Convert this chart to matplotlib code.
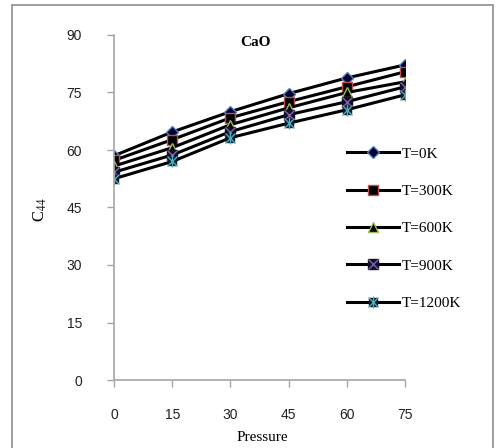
import numpy as np
import matplotlib.pyplot as plt
from matplotlib.patches import Rectangle

pressure = [0, 15, 30, 45, 60, 75]
labels = ['T=0K', 'T=300K', 'T=600K', 'T=900K', 'T=1200K']
c44_0 = [58.5, 64.7, 70.0, 74.7, 78.8, 82.2]
c44_300 = [57.3, 62.7, 68.4, 72.6, 76.5, 80.4]
c44_600 = [55.8, 60.6, 66.6, 71.0, 75.0, 77.8]
c44_900 = [54.2, 58.7, 64.8, 69.2, 72.6, 76.5]
c44_1200 = [52.5, 57.0, 63.2, 67.0, 70.5, 74.4]
y_ticks = [0, 15, 30, 45, 60, 75, 90]

W, H = 496, 448
fig = plt.figure(figsize=(W / 100, H / 100), dpi=100)
fig.patches.append(Rectangle((12 / W, -0.1), (493 - 12) / W, 1.1 - 5 / H,
                             transform=fig.transFigure, fill=False,
                             edgecolor='#8c8c8c', linewidth=1.2))

ax = fig.add_axes([114 / W, 1 - 380 / H, (405 - 114) / W, 345 / H])
grey = '#a6a6a6'

handles = []
lw = 2.2
# T=0K diamond
h0, = ax.plot(pressure, c44_0, color='black', lw=lw, marker='D', ms=6,
              mfc='#000033', mec='#4f81bd', mew=1)
handles.append(h0)
# T=300K square
h1, = ax.plot(pressure, c44_300, color='black', lw=lw, marker='s', ms=7.5,
              mfc='black', mec='#c0504d', mew=1)
handles.append(h1)
# T=600K triangle
h2, = ax.plot(pressure, c44_600, color='black', lw=lw, marker='^', ms=7.5,
              mfc='black', mec='#9bbb59', mew=1)
handles.append(h2)
# T=900K x on dark square
h3, = ax.plot(pressure, c44_900, color='black', lw=lw, marker='s', ms=7,
              mfc='#10102a', mec='#10102a', mew=1)
h3x, = ax.plot(pressure, c44_900, ls='none', marker='x', ms=7,
               mec='#8064a2', mew=1)
handles.append((h3, h3x))
# T=1200K star on dark square
h4, = ax.plot(pressure, c44_1200, color='black', lw=lw, marker='s', ms=6,
              mfc='#0a1a22', mec='#0a1a22', mew=1)
h4x, = ax.plot(pressure, c44_1200, ls='none', marker='x', ms=7,
               mec='#4bacc6', mew=1)
h4v, = ax.plot(pressure, c44_1200, ls='none', marker='|', ms=8,
               mec='#4bacc6', mew=1)
handles.append((h4, h4x, h4v))

ax.set_xlim(0, 75)
ax.set_ylim(0, 90)
ax.set_xticks(pressure)
ax.set_yticks(y_ticks)
for s in ['top', 'right']:
    ax.spines[s].set_visible(False)
for s in ['left', 'bottom']:
    ax.spines[s].set_color(grey)
    ax.spines[s].set_linewidth(1.2)
ax.tick_params(axis='y', direction='out', length=5, width=1, color=grey, pad=18,
               labelsize=10)
ax.tick_params(axis='x', direction='out', length=5, width=1, color=grey, pad=15,
               labelsize=10)
for t in ax.get_xticklabels() + ax.get_yticklabels():
    t.set_fontfamily('Liberation Sans')
    t.set_color('#222222')

fig.text(255 / W, 1 - 42 / H, 'CaO', ha='center', va='center',
         family='Liberation Serif', weight='bold', fontsize=11)
fig.text(262 / W, 1 - 437 / H, 'Pressure', ha='center', va='center',
         family='Liberation Serif', fontsize=11)
fig.text(40 / W, 1 - 210 / H, r'C$_{44}$', ha='center', va='center',
         rotation=90, family='Liberation Serif', fontsize=12,
         math_fontfamily='stix')

leg = ax.legend(handles, labels, loc='upper left',
                bbox_to_anchor=(347 / W, 1 - 147 / H),
                bbox_transform=fig.transFigure, frameon=False,
                prop={'family': 'Liberation Serif', 'size': 11},
                handlelength=3.4, handletextpad=0.2, labelspacing=1.55,
                borderpad=0, borderaxespad=0)

fig.savefig('out.png', dpi=100)
